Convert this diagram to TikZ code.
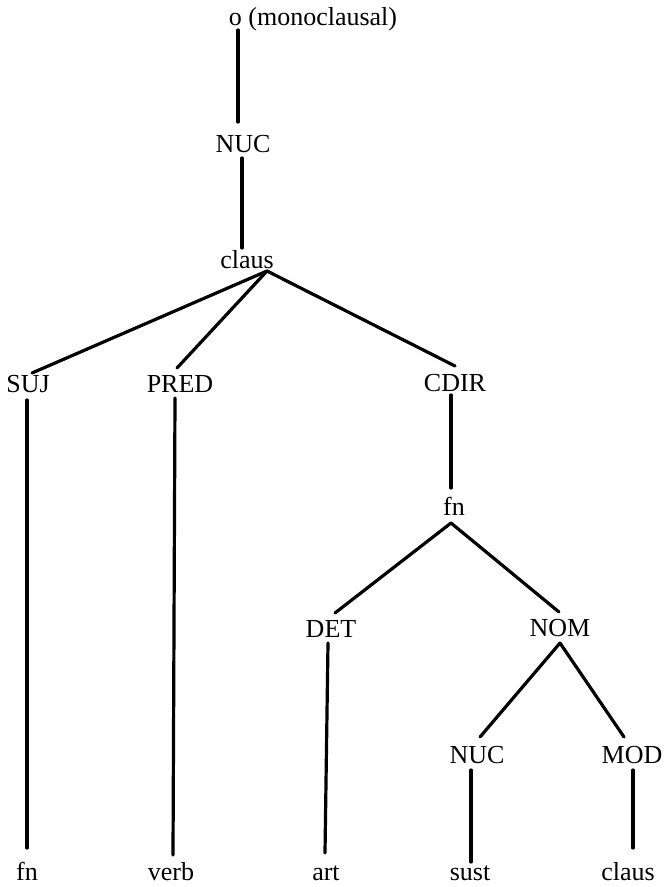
\documentclass[tikz,border=0pt]{standalone}
\usepackage{fontspec}
\setmainfont{Liberation Serif}
\begin{document}
\begin{tikzpicture}[x=1pt,y=-1pt,
  lab/.style={inner sep=0pt,anchor=base,font=\fontsize{26}{29}\selectfont},
  edge/.style={line width=3.2pt,line cap=round}]
\useasboundingbox[fill=white] (0,0) rectangle (664,887);
% nodes
\node[lab] (top) at (313,25) {o (monoclausal)};
\node[lab] (nuc1) at (243,152) {NUC};
\node[lab] (claus1) at (247,268) {claus};
\node[lab] (suj) at (28,392) {SUJ};
\node[lab] (pred) at (180,392) {PRED};
\node[lab] (cdir) at (455,391) {CDIR};
\node[lab] (fn2) at (454,515) {fn};
\node[lab] (det) at (331,637) {DET};
\node[lab] (nom) at (560,636) {NOM};
\node[lab] (nuc2) at (477,763) {NUC};
\node[lab] (mod) at (632,763) {MOD};
\node[lab] (fn1) at (27,880) {fn};
\node[lab] (verb) at (171,880) {verb};
\node[lab] (art) at (326,880) {art};
\node[lab] (sust) at (470,880) {sust};
\node[lab] (claus2) at (628,880) {claus};
% connectors
\draw[edge] ([shift={(-75,5)}]top.base) -- ([shift={(-5,-30)}]nuc1.base);
\draw[edge] ([shift={(-1,6)}]nuc1.base) -- ([shift={(-5,-20)}]claus1.base);
\draw[edge] ([shift={(20,3)}]claus1.base) -- ([shift={(4,-19)}]suj.base);
\draw[edge] ([shift={(20,3)}]claus1.base) -- ([shift={(-3,-24)}]pred.base);
\draw[edge] ([shift={(20,3)}]claus1.base) -- ([shift={(0,-25)}]cdir.base);
\draw[edge] ([shift={(-1,8)}]suj.base) -- ([shift={(0,-32)}]fn1.base);
\draw[edge] ([shift={(-5,6)}]pred.base) -- ([shift={(2,-25)}]verb.base);
\draw[edge] ([shift={(-4,4)}]cdir.base) -- ([shift={(-3,-27)}]fn2.base);
\draw[edge] ([shift={(-3,8)}]fn2.base) -- ([shift={(4,-24)}]det.base);
\draw[edge] ([shift={(-3,8)}]fn2.base) -- ([shift={(-1,-24)}]nom.base);
\draw[edge] ([shift={(-3,6)}]det.base) -- ([shift={(-1,-27)}]art.base);
\draw[edge] ([shift={(0,7)}]nom.base) -- ([shift={(3,-26)}]nuc2.base);
\draw[edge] ([shift={(0,7)}]nom.base) -- ([shift={(-8,-26)}]mod.base);
\draw[edge] ([shift={(-6,7)}]nuc2.base) -- ([shift={(1,-18)}]sust.base);
\draw[edge] ([shift={(1,7)}]mod.base) -- ([shift={(5,-32)}]claus2.base);
\end{tikzpicture}
\end{document}
